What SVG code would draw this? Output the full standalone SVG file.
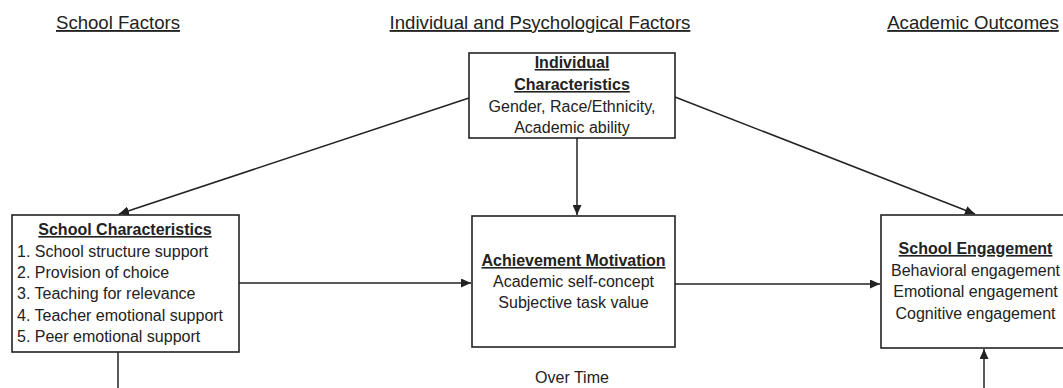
<svg xmlns="http://www.w3.org/2000/svg" width="1063" height="388" viewBox="0 0 1063 388">
<style>
text{font-family:"Liberation Sans",Arial,sans-serif;fill:#222}
.hd{font-size:18.6px;text-decoration:underline}
.t{font-size:16px}
.b{font-weight:bold;text-decoration:underline}
.box{fill:#fff;stroke:#222;stroke-width:1.6}
.c{stroke:#222;stroke-width:1.5;fill:none}
</style>
<defs>
<marker id="ah" markerUnits="userSpaceOnUse" markerWidth="11" markerHeight="9" refX="10" refY="4.5" orient="auto">
<path d="M0,0 L10,4.5 L0,9 Z" fill="#222"/>
</marker>
</defs>
<g id="headers">
<text class="hd" x="118" y="29" text-anchor="middle">School Factors</text>
<text class="hd" x="540" y="29" text-anchor="middle">Individual and Psychological Factors</text>
<text class="hd" x="973" y="29" text-anchor="middle">Academic Outcomes</text>
</g>
<g id="connectors">
<line class="c" x1="469" y1="98" x2="119" y2="214" marker-end="url(#ah)"/>
<line class="c" x1="577" y1="138" x2="577" y2="215" marker-end="url(#ah)"/>
<line class="c" x1="675" y1="97" x2="975" y2="214" marker-end="url(#ah)"/>
<line class="c" x1="239" y1="283" x2="471" y2="283" marker-end="url(#ah)"/>
<line class="c" x1="675" y1="284" x2="880" y2="284" marker-end="url(#ah)"/>
<line class="c" x1="118" y1="352" x2="118" y2="390"/>
<line class="c" x1="984" y1="390" x2="984" y2="349" marker-end="url(#ah)"/>
</g>
<g id="individual">
<rect class="box" x="469" y="53" width="206" height="85"/>
<text class="t" text-anchor="middle" x="572"><tspan class="b" x="572" y="68">Individual</tspan><tspan class="b" x="572" y="90">Characteristics</tspan><tspan x="572" y="112">Gender, Race/Ethnicity,</tspan><tspan x="572" y="133">Academic ability</tspan></text>
</g>
<g id="school-characteristics">
<rect class="box" x="12" y="215" width="227" height="137"/>
<text class="t b" x="125" y="235" text-anchor="middle">School Characteristics</text>
<text class="t" x="17"><tspan x="17" y="257">1. School structure support</tspan><tspan x="17" y="278">2. Provision of choice</tspan><tspan x="17" y="299">3. Teaching for relevance</tspan><tspan x="17" y="320.5">4. Teacher emotional support</tspan><tspan x="17" y="341.5">5. Peer emotional support</tspan></text>
</g>
<g id="achievement-motivation">
<rect class="box" x="472" y="216" width="203" height="131"/>
<text class="t" text-anchor="middle"><tspan class="b" x="573.5" y="266">Achievement Motivation</tspan><tspan x="573.5" y="287">Academic self-concept</tspan><tspan x="573.5" y="308">Subjective task value</tspan></text>
</g>
<g id="school-engagement">
<rect class="box" x="881" y="215" width="190" height="133"/>
<text class="t" text-anchor="middle"><tspan class="b" x="975.5" y="254">School Engagement</tspan><tspan x="975.5" y="275.5">Behavioral engagement</tspan><tspan x="975.5" y="297">Emotional engagement</tspan><tspan x="975.5" y="319">Cognitive engagement</tspan></text>
</g>
<g id="over-time">
<text class="t" x="572" y="383" text-anchor="middle">Over Time</text>
</g>
</svg>
